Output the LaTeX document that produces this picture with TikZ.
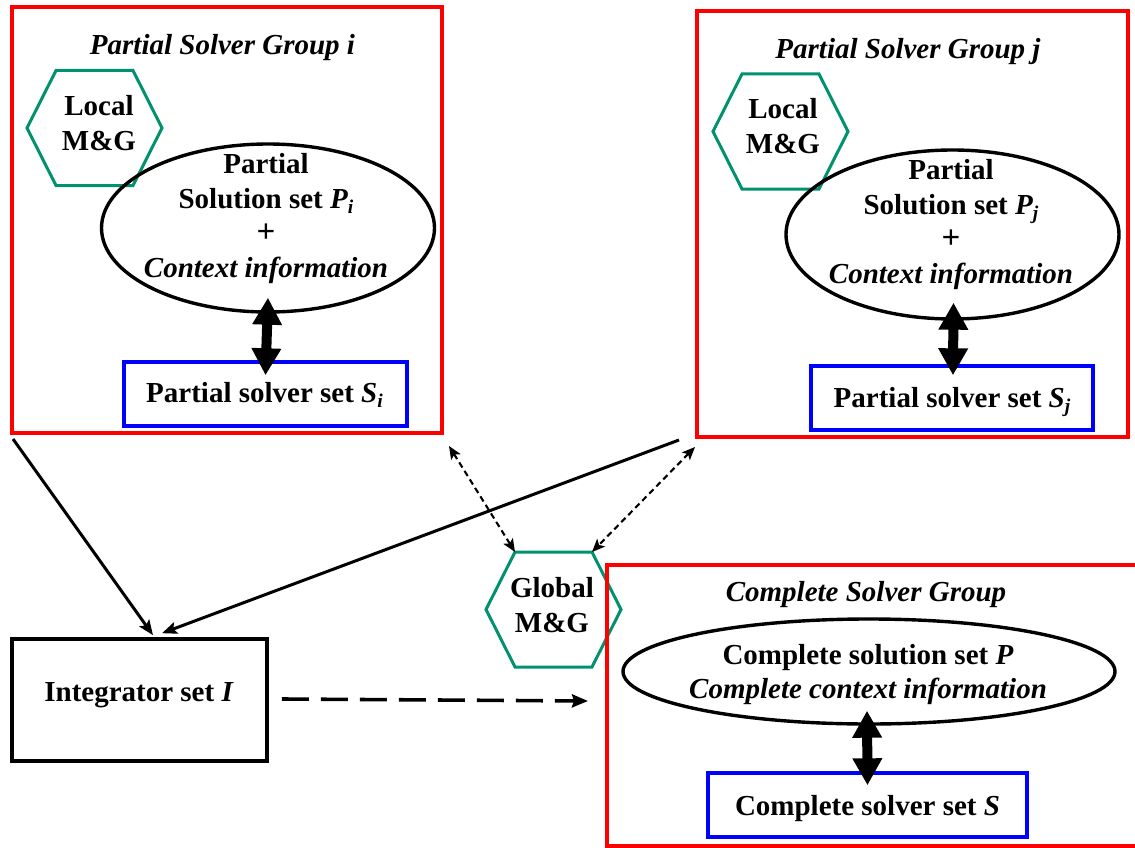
\documentclass[tikz,border=0pt]{standalone}
\usepackage{fontspec}
\setmainfont{Liberation Serif}
\usetikzlibrary{arrows.meta,calc,shapes.geometric}

% lowered italic index, as in P_i or S_j
\newcommand{\lowidx}[1]{\raisebox{-5pt}{\fontsize{19.5}{19.5}\selectfont\bfseries\itshape #1}}
% slightly larger plus sign between the set and its context
\newcommand{\bigplus}{{\fontsize{33}{34.5}\selectfont +}}

\definecolor{hexgreen}{RGB}{0,145,110}

\tikzset{
  lbl/.style={inner sep=0pt, align=center, anchor=base,
              font=\fontsize{29}{34.5}\selectfont\bfseries},
  mlbl/.style={lbl, anchor=north},
  grp/.style={draw=red, line width=4pt, inner sep=0pt},
  solverbox/.style={draw=blue, line width=3.4pt, inner sep=0pt},
  intbox/.style={draw=black, line width=3.6pt, inner sep=0pt},
  setellipse/.style={ellipse, draw=black, line width=3.4pt, inner sep=0pt},
  hexline/.style={draw=hexgreen, line width=3pt, line join=miter},
  fat/.style={line width=10pt,
              {Triangle[length=27pt,width=28pt]}-{Triangle[length=27pt,width=28pt]}},
  flow/.style={line width=3pt, -{Stealth[length=15pt,width=12pt,inset=3pt]}},
  mgflow/.style={line width=2.1pt, dash pattern=on 6pt off 4pt,
              {Stealth[length=13pt,width=11pt,inset=3pt]}-{Stealth[length=13pt,width=11pt,inset=3pt]}},
  handoff/.style={line width=3.6pt, dash pattern=on 27pt off 12pt,
              -{Stealth[length=16pt,width=13pt,inset=2pt]}},
}

% hexagon outline round a centre coordinate
\newcommand{\hexagonat}[1]{%
  \draw[hexline] ($(#1)+(-67.5,0)$) -- ($(#1)+(-38.5,-57.5)$) -- ($(#1)+(38.5,-57.5)$)
    -- ($(#1)+(67.5,0)$) -- ($(#1)+(38.5,57.5)$) -- ($(#1)+(-38.5,57.5)$) -- cycle;}

\begin{document}
\begin{tikzpicture}[x=1pt,y=-1pt]
\path[use as bounding box] (0,0) rectangle (1135,848);
\clip (0,0) rectangle (1135,848);

% ---------- Partial Solver Group i ----------
\coordinate (hi) at (94.5,128);
\hexagonat{hi}
\node[grp, minimum width=430pt, minimum height=426pt] (gi) at (227,220) {};
\node[lbl] (ti) at (222.5,54.5) {\itshape Partial Solver Group i};
\node[mlbl] (li) at (99,95.5) {Local\\M\&G};
\node[setellipse, minimum width=333pt, minimum height=168pt] (ei) at (268,228) {};
\node[mlbl] (pi) at (266,153.5) {Partial\\Solution set \textit{P}\lowidx{i}\\\bigplus\\\itshape Context information};
\node[solverbox, minimum width=283pt, minimum height=64pt] (si) at (265.5,394) {};
\node[lbl] (sit) at (264.5,402.5) {Partial solver set \textit{S}\lowidx{i}};
\draw[fat] ($(ei.south)+(0,-16)$) -- ($(si.north)+(0,15)$);

% ---------- Partial Solver Group j ----------
\coordinate (hj) at (780.5,131.5);
\hexagonat{hj}
\node[grp, minimum width=431pt, minimum height=426pt] (gj) at (912.5,224) {};
\node[lbl] (tj) at (908,58.5) {\itshape Partial Solver Group j};
\node[mlbl] (lj) at (783,98.5) {Local\\M\&G};
\node[setellipse, minimum width=333pt, minimum height=169pt] (ej) at (952.5,234.5) {};
\node[mlbl] (pj) at (951,159.5) {Partial\\Solution set \textit{P}\lowidx{j}\\\bigplus\\\itshape Context information};
\node[solverbox, minimum width=282pt, minimum height=64pt] (sj) at (952,398) {};
\node[lbl] (sjt) at (952,407.5) {Partial solver set \textit{S}\lowidx{j}};
\draw[fat] ($(ej.south)+(1,-18)$) -- ($(sj.north)+(1,11)$);

% ---------- Global M&G ----------
\coordinate (hg) at (553.5,609.5);
\hexagonat{hg}
\coordinate (gtl) at ($(hg)+(-38.5,-57.5)$);
\coordinate (gtr) at ($(hg)+(38.5,-57.5)$);
\node[mlbl] (gl) at (552,577.5) {Global\\M\&G};

% ---------- Complete Solver Group ----------
\node[grp, minimum width=538pt, minimum height=281pt] (gc) at (876,705.5) {};
\node[lbl] (tc) at (866,601.5) {\itshape Complete Solver Group};
\node[setellipse, minimum width=492pt, minimum height=105pt] (ec) at (869,671.5) {};
\node[mlbl, font=\fontsize{29}{33.5}\selectfont\bfseries] (pc) at (868,644.5)
  {Complete solution set \textit{P}\\\itshape Complete context information};
\node[solverbox, minimum width=319pt, minimum height=64pt] (sc) at (867.5,805) {};
\node[lbl] (sct) at (867.5,815.5) {Complete solver set \textit{S}};
\draw[fat] ($(ec.south)+(-2,-15)$) -- ($(sc.north)+(0,14)$);

% ---------- Integrator ----------
\node[intbox, minimum width=255pt, minimum height=122pt] (int) at (139.5,700) {};
\node[lbl] (intt) at (139,701.5) {Integrator set \textit{I}};

% ---------- connectors ----------
\coordinate (fromi) at ($(gi.south west)+(3,4)$);
\coordinate (fromj) at ($(gj.south west)+(-16,1)$);
\draw[flow] (fromi) -- ($(int.north)+(13.5,-2)$);
\draw[flow] (fromj) -- ($(int.north)+(22.5,-4)$);

\coordinate (mgi) at ($(gi.south east)+(5,11)$);
\coordinate (mgj) at ($(gj.south west)+(0,8)$);
\draw[mgflow] (mgi) -- (gtl);
\draw[mgflow] (mgj) -- (gtr);

\draw[handoff] ($(int.east)+(13,-1)$) -- ($(gc.west)+(-17,-4.5)$);
\end{tikzpicture}
\end{document}
